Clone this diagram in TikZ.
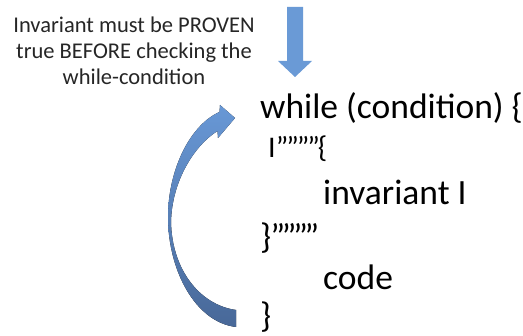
\documentclass[tikz,border=0pt]{standalone}
\usepackage{fontspec}
\setmainfont{Carlito}
\newcommand{\qq}[1]{”\kern#1”\kern#1”\kern#1”}
\begin{document}
\begin{tikzpicture}[x=1pt,y=-1pt,
  note/.style={anchor=base,inner sep=0pt,font=\fontsize{22.5}{26}\selectfont,text=black!85},
  codeline/.style={anchor=base west,inner sep=0pt,font=\fontsize{35.5}{42}\selectfont},
  smallline/.style={anchor=base west,inner sep=0pt,font=\fontsize{30}{36}\selectfont}]
\definecolor{arrowfill}{RGB}{106,154,214}
\definecolor{curvetop}{RGB}{104,152,214}
\definecolor{curvebot}{RGB}{72,104,152}
\useasboundingbox (0,0) rectangle (523,336);
\fill[white] (0,0) rectangle (523,336);
% note text
\node[note] (n1) at (134,33) {Invariant must be PROVEN};
\node[note] (n2) at (134,59) {true BEFORE checking the};
\node[note] (n3) at (134,85) {while-condition};
% down arrow
\fill[arrowfill]
  (287,7) -- (303,7) -- (303,61) -- (312,61) -- (295,77) -- (278,61) -- (287,61) -- cycle;
% code
\node[codeline] (c1) at (260,119) {while (condition) \{};
\node[smallline] (c2) at (268,158) {I\qq{-2pt}\kern-2pt\{};
\node[codeline] (c3) at (323,205) {invariant I};
\node[codeline] (c4) at (260,249) {\}\kern-1pt\qq{-3.5pt}};
\node[codeline] (c5) at (323,290) {code};
\node[codeline] (c6) at (260,328) {\}};
% curved arrow
\fill[top color=curvetop,bottom color=curvebot]
  (236,327) .. controls (195,322) and (168,270) .. (168,217)
  .. controls (168,170) and (190,125) .. (219.5,112)
  -- (220,105) -- (235,118) -- (218,138) -- (217.5,131)
  .. controls (195,145) and (172,180) .. (171,222)
  .. controls (172,270) and (200,305) .. (236,310) -- cycle;
\end{tikzpicture}
\end{document}
